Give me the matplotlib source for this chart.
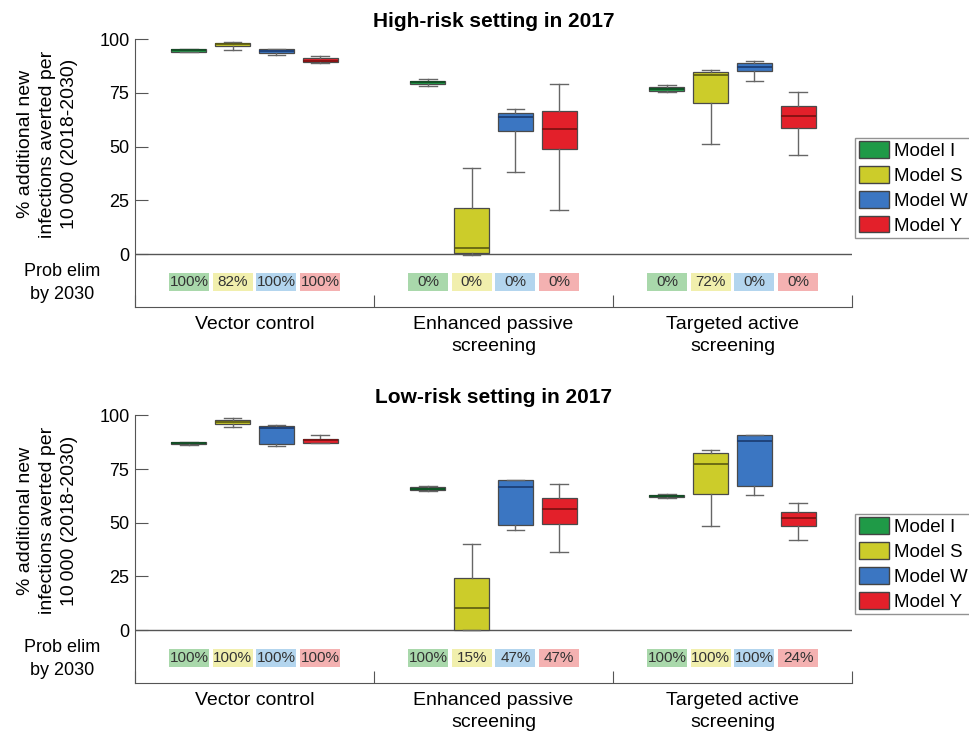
import matplotlib
matplotlib.use("Agg")
import matplotlib.pyplot as plt
import matplotlib.transforms as mtransforms
from matplotlib.patches import Rectangle, Patch
import numpy as np

plt.rcParams['font.family'] = ['Liberation Sans', 'DejaVu Sans']

models = ['Model I', 'Model S', 'Model W', 'Model Y']
groups = ['Vector control', 'Enhanced passive\nscreening', 'Targeted active\nscreening']
titles = ['High-risk setting in 2017', 'Low-risk setting in 2017']

# rows = strategy, cols = model (I, S, W, Y)
high_lo = [[94.0, 94.9, 92.5, 88.7], [78.1, -0.5, 38.3, 20.6], [75.3, 51.2, 80.5, 46.2]]
high_q1 = [[94.1, 96.7, 93.3, 89.2], [78.9, 0.3, 57.1, 48.7], [76.0, 70.1, 85.3, 58.8]]
high_med = [[94.7, 97.5, 94.6, 90.0], [79.8, 2.6, 63.6, 58.0], [76.9, 83.3, 87.1, 64.3]]
high_q3 = [[95.2, 98.3, 95.2, 91.0], [80.6, 21.2, 65.4, 66.5], [77.8, 84.7, 88.7, 68.8]]
high_hi = [[95.5, 98.6, 95.3, 92.1], [81.5, 39.9, 67.4, 79.1], [78.5, 85.6, 89.8, 75.5]]
high_prob = [[100, 82, 100, 100], [0, 0, 0, 0], [0, 72, 0, 0]]

low_lo = [[86.3, 94.4, 85.7, 87.0], [64.6, 0.0, 46.6, 36.2], [61.6, 48.4, 62.7, 41.8]]
low_q1 = [[86.6, 95.9, 86.6, 87.2], [65.1, 0.0, 48.8, 49.4], [61.8, 63.2, 67.2, 48.4]]
low_med = [[87.2, 97.0, 93.9, 88.5], [65.8, 10.1, 66.5, 56.2], [62.4, 77.3, 88.0, 52.2]]
low_q3 = [[87.7, 97.8, 95.2, 89.1], [66.6, 24.1, 69.7, 61.5], [63.0, 82.3, 90.8, 54.8]]
low_hi = [[87.8, 98.6, 95.5, 91.0], [67.0, 39.9, 69.7, 67.9], [63.2, 84.0, 90.8, 59.3]]
low_prob = [[100, 100, 100, 100], [100, 15, 47, 47], [100, 100, 100, 24]]

box_colors = ['#1f9a47', '#cccc2a', '#3b76c2', '#e3202a']
med_colors = ['#0d4a20', '#5a5a10', '#1a3a70', '#7a1010']
label_colors = ['#a9d8ab', '#f1efad', '#b3d5ee', '#f4b1b1']

panels = [
    (high_lo, high_q1, high_med, high_q3, high_hi, high_prob),
    (low_lo, low_q1, low_med, low_q3, low_hi, low_prob),
]

fig = plt.figure(figsize=(9.69, 7.36), dpi=100)
axes = [fig.add_axes([0.1393, 0.5833, 0.740, 0.3637]),
        fig.add_axes([0.1393, 0.0724, 0.740, 0.3633])]

offsets = np.array([-1.5, -0.5, 0.5, 1.5]) * 0.183
width = 0.147

for ax, title, (lo, q1, med, q3, hi, prob) in zip(axes, titles, panels):
    lo, q1, med, q3, hi = [np.array(a) for a in (lo, q1, med, q3, hi)]
    ax.axhline(0, color='#555555', lw=1, zorder=1)
    for m in range(4):
        stats = []
        for g in range(3):
            stats.append(dict(whislo=lo[g, m], q1=q1[g, m], med=med[g, m],
                              q3=q3[g, m], whishi=hi[g, m], fliers=[]))
        pos = [g + 1 + offsets[m] for g in range(3)]
        ax.bxp(stats, positions=pos, widths=width, capwidths=width * 0.5,
               patch_artist=True, showfliers=False, manage_ticks=False,
               boxprops=dict(facecolor=box_colors[m], edgecolor='#4a4a4a', lw=0.9),
               medianprops=dict(color=med_colors[m], lw=1.2),
               whiskerprops=dict(color='#666666', lw=1),
               capprops=dict(color='#666666', lw=1), zorder=2)
        for g in range(3):
            x = g + 1 + offsets[m]
            ax.add_patch(Rectangle((x - 0.084, -17.2), 0.168, 8.4,
                                   facecolor=label_colors[m], edgecolor='none'))
            ax.text(x, -13, f'{prob[g][m]}%', ha='center', va='center',
                    fontsize=11, color='#333333')

    ax.set_xlim(0.5, 3.5)
    ax.set_ylim(-24.5, 100)
    ax.set_yticks([0, 25, 50, 75, 100])
    ax.set_xticks([0.5, 1.5, 2.5, 3.5])
    ax.set_xticklabels([])
    ax.tick_params(axis='y', direction='in', length=9, labelsize=13, color='#555555', pad=4)
    ax.tick_params(axis='x', direction='in', length=9, color='#555555')
    for s in ['top', 'right']:
        ax.spines[s].set_visible(False)
    for s in ['left', 'bottom']:
        ax.spines[s].set_color('#555555')
    ax.set_title(title, fontsize=15, fontweight='bold', pad=9)

    trans = mtransforms.blended_transform_factory(ax.transData, ax.transAxes)
    for g, name in enumerate(groups):
        ax.text(g + 1, -0.033, name, transform=trans, ha='center', va='top',
                fontsize=14, linespacing=1.4)

    ytrans = mtransforms.blended_transform_factory(ax.transAxes, ax.transData)
    ax.text(-0.122, 51, '% additional new\ninfections averted per\n10\u2009000 (2018-2030)',
            transform=ytrans, rotation=90, ha='center', va='center',
            fontsize=14, linespacing=1.4)
    ax.text(-0.102, -13.5, 'Prob elim\nby 2030', transform=ytrans,
            ha='center', va='center', fontsize=13, linespacing=1.45)

    handles = [Patch(facecolor=c, edgecolor='#444444', label=l) for c, l in zip(box_colors, models)]
    ax.legend(handles=handles, loc='upper left', bbox_to_anchor=(1.004, 0.632),
              fontsize=13.5, frameon=True, fancybox=False, edgecolor='#777777',
              handlelength=1.6, handleheight=1.0, handletextpad=0.3,
              labelspacing=0.32, borderpad=0.2, borderaxespad=0)

fig.savefig('out.png', dpi=100)
